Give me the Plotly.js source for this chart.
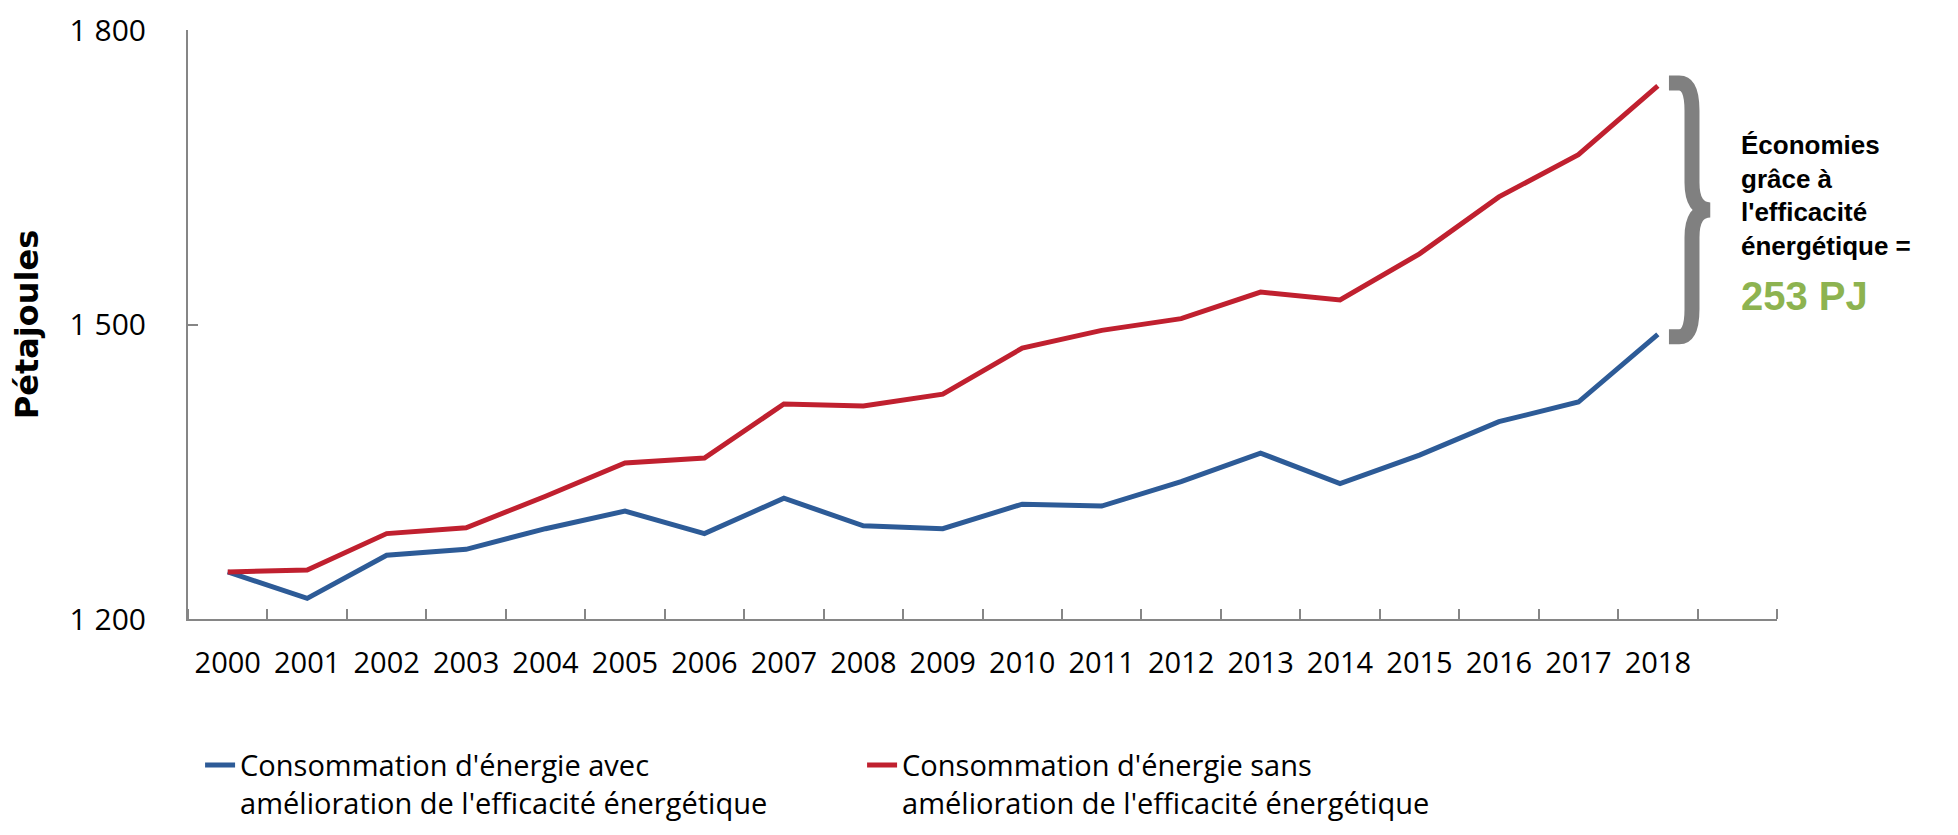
<!DOCTYPE html>
<html>
<head>
<meta charset="utf-8">
<script src="https://cdn.plot.ly/plotly-3.0.1.min.js"></script>
<style>html,body{margin:0;padding:0;background:#fff;}#chart{width:1958px;height:835px;}</style>
</head>
<body>
<div id="chart"></div>
<script>
// ---- data ----
var years = [2000, 2001, 2002, 2003, 2004, 2005, 2006, 2007, 2008, 2009, 2010, 2011, 2012, 2013, 2014, 2015, 2016, 2017, 2018];
var avecEfficacite = [1248, 1221, 1265, 1271, 1292, 1310, 1287, 1323, 1295, 1292, 1317, 1315, 1340, 1369, 1338, 1367, 1401, 1421, 1490];
var sansEfficacite = [1248, 1250, 1287, 1293, 1325, 1359, 1364, 1419, 1417, 1429, 1476, 1494, 1506, 1533, 1525, 1572, 1630, 1673, 1743];
var yTickVals = [1200, 1500, 1800];
var yTickText = ["1 200", "1 500", "1 800"];
var xTickText = years.map(String);
var seriesNames = [
  "Consommation d'énergie avec<br>amélioration de l'efficacité énergétique",
  "Consommation d'énergie sans<br>amélioration de l'efficacité énergétique"
];
var savingsLines = ["Économies", "grâce à", "l'efficacité", "énergétique ="];

var FONT = "Open Sans, Noto Sans, sans-serif";
var TITLEFONT = "DejaVu Sans, sans-serif";
var ANNFONT = "Liberation Sans, Arial, sans-serif";
var GRAY = "#868686";

(function () {
  // savings value derived from data
  var last = years.length - 1;
  var savings = sansEfficacite[last] - avecEfficacite[last];

  // brace path in data coordinates, spanning the two 2018 values
  var lastYear = years[last];
  var yTop = sansEfficacite[last] + 3;
  var yBot = avecEfficacite[last] - 2.5;
  var yMid = (yTop + yBot) / 2;
  var x0 = lastYear + 0.14, xa = lastYear + 0.27, x1 = lastYear + 0.43, x2 = lastYear + 0.66;
  var c = 28;
  var bracePath = "M" + x0 + "," + yTop + " L" + xa + "," + yTop +
    " Q" + x1 + "," + yTop + " " + x1 + "," + (yTop - c) +
    " L" + x1 + "," + (yMid + c) +
    " Q" + x1 + "," + yMid + " " + x2 + "," + yMid +
    " Q" + x1 + "," + yMid + " " + x1 + "," + (yMid - c) +
    " L" + x1 + "," + (yBot + c) +
    " Q" + x1 + "," + yBot + " " + xa + "," + yBot +
    " L" + x0 + "," + yBot;

  var traces = [
    {x: years, y: avecEfficacite, type: "scatter", mode: "lines", name: seriesNames[0],
     line: {color: "#2D5B97", width: 5}},
    {x: years, y: sansEfficacite, type: "scatter", mode: "lines", name: seriesNames[1],
     line: {color: "#C0202F", width: 5}}
  ];

  var annYs = [0.8048, 0.7470, 0.6910, 0.6333];
  var annotations = savingsLines.map(function (t, i) {
    return {xref: "paper", yref: "paper", x: 0.9761, y: annYs[i], xanchor: "left", yanchor: "middle",
            text: t, showarrow: false, align: "left",
            font: {family: ANNFONT, size: 26, color: "#000", weight: "bold"}};
  });
  annotations.push({xref: "paper", yref: "paper", x: 0.9761, y: 0.5484, xanchor: "left", yanchor: "middle",
    text: savings + " PJ", showarrow: false,
    font: {family: ANNFONT, size: 40, color: "#8DB350", weight: "bold"}});

  var layout = {
    width: 1958, height: 835,
    margin: {l: 188, r: 181, t: 30, b: 216, pad: 0, autoexpand: false},
    paper_bgcolor: "#fff", plot_bgcolor: "#fff",
    font: {family: FONT, color: "#000"},
    showlegend: true,
    legend: {orientation: "h", x: 0.0076, xanchor: "left", y: -0.205, yanchor: "top",
             valign: "top", font: {family: FONT, size: 29, color: "#000"},
             entrywidth: 617, entrywidthmode: "pixels", traceorder: "normal",
             bgcolor: "rgba(0,0,0,0)"},
    xaxis: {range: [1999.5, 2019.5], tickmode: "array", tickvals: years, ticktext: xTickText,
            ticks: "", showgrid: false, zeroline: false, showline: true, linecolor: GRAY, linewidth: 2,
            tickfont: {family: FONT, size: 29, color: "#000"}, ticklabelstandoff: 17,
            minor: {tick0: 1999.5, dtick: 1, ticks: "inside", ticklen: 10, tickwidth: 2, tickcolor: GRAY, showgrid: false},
            fixedrange: true},
    yaxis: {range: [1200, 1800], tickmode: "array", tickvals: yTickVals, ticktext: yTickText,
            ticks: "inside", ticklen: 10, tickwidth: 2, tickcolor: GRAY,
            showgrid: false, zeroline: false, showline: true, linecolor: GRAY, linewidth: 2,
            tickfont: {family: FONT, size: 30, color: "#000"}, ticklabelstandoff: 34,
            title: {text: "Pétajoules", font: {family: TITLEFONT, size: 32, color: "#000", weight: "bold"}, standoff: 21},
            fixedrange: true},
    shapes: [{type: "path", xref: "x", yref: "y", path: bracePath,
              line: {color: "#808080", width: 15}, fillcolor: "rgba(0,0,0,0)"}],
    annotations: annotations
  };

  Plotly.newPlot("chart", traces, layout, {displayModeBar: false, staticPlot: true});
})();
</script>
</body>
</html>
